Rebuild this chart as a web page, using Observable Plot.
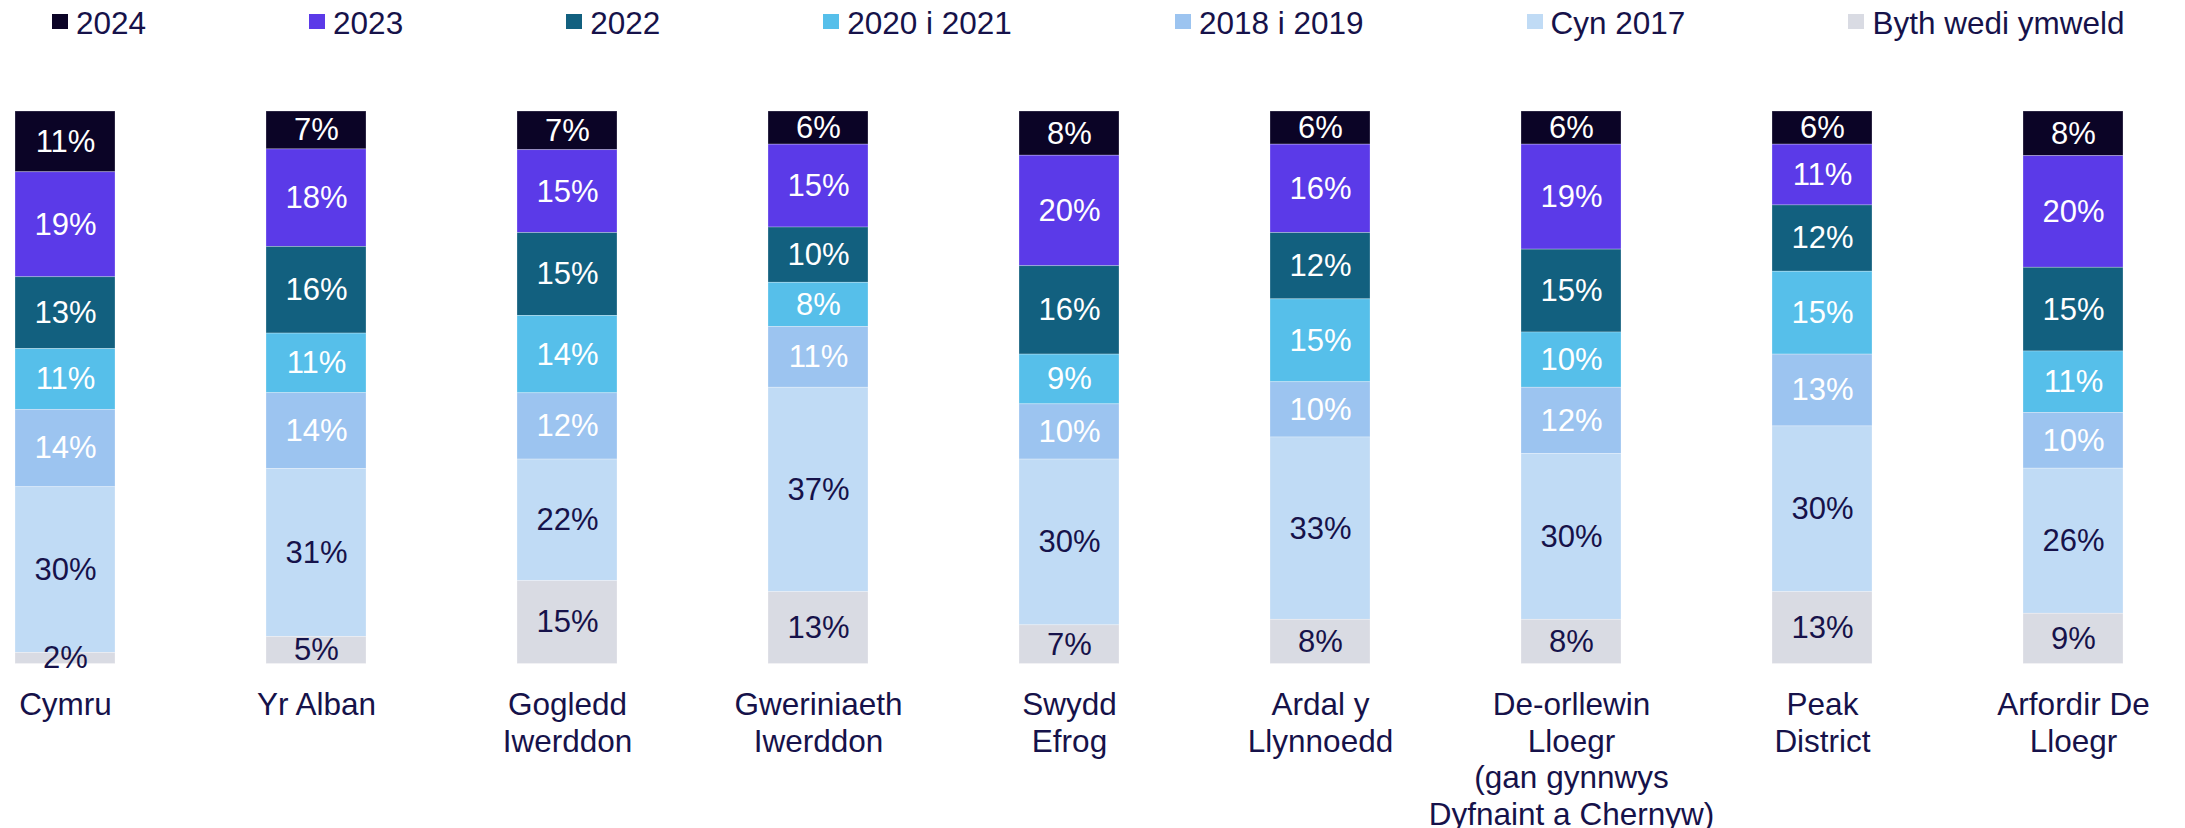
<!DOCTYPE html>
<html>
<head>
<meta charset="utf-8">
<script src="https://cdn.jsdelivr.net/npm/d3@7"></script>
<script src="https://cdn.jsdelivr.net/npm/@observablehq/plot@0.6"></script>
<style>
  html, body { margin: 0; padding: 0; background: #fff; }
  body { width: 2185px; height: 828px; overflow: hidden; font-family: "Liberation Sans", Arial, sans-serif; color: #16124a; }
  #legend { height: 50px; position: relative; display: flex; align-items: flex-start; padding-left: 52px; box-sizing: border-box; }
  .item { display: flex; align-items: flex-start; margin-right: 163px; font-size: 31.5px; line-height: 1; padding-top: 8px; white-space: nowrap; }
  .sw { width: 16px; height: 15px; margin-right: 8px; margin-top: 6px; }
  #chart svg { display: block; overflow: visible; }
</style>
</head>
<body>
<div id="legend"></div>
<div id="chart"></div>
<script>
const categories = ["Cymru", "Yr Alban", "Gogledd Iwerddon", "Gweriniaeth Iwerddon", "Swydd Efrog", "Ardal y Llynnoedd", "De-orllewin Lloegr (gan gynnwys Dyfnaint a Chernyw)", "Peak District", "Arfordir De Lloegr"];
const categoryLabels = ["Cymru", "Yr Alban", "Gogledd\nIwerddon", "Gweriniaeth\nIwerddon", "Swydd\nEfrog", "Ardal y\nLlynnoedd", "De-orllewin\nLloegr\n(gan gynnwys\nDyfnaint a Chernyw)", "Peak\nDistrict", "Arfordir De\nLloegr"];
// legend order (top of stack first)
const series = ["2024", "2023", "2022", "2020 i 2021", "2018 i 2019", "Cyn 2017", "Byth wedi ymweld"];
const colors = ["#0b0426", "#5b3ae8", "#12607f", "#56bfea", "#9cc4f0", "#c0dbf5", "#d9dbe3"];
const darkSeries = ["2024", "2023", "2022", "2020 i 2021", "2018 i 2019"];

const v2024   = [11, 7, 7, 6, 8, 6, 6, 6, 8];
const v2023   = [19, 18, 15, 15, 20, 16, 19, 11, 20];
const v2022   = [13, 16, 15, 10, 16, 12, 15, 12, 15];
const v2020   = [11, 11, 14, 8, 9, 15, 10, 15, 11];
const v2018   = [14, 14, 12, 11, 10, 10, 12, 13, 10];
const vCyn    = [30, 31, 22, 37, 30, 33, 30, 30, 26];
const vByth   = [2, 5, 15, 13, 7, 8, 8, 13, 9];

const seriesValues = [v2024, v2023, v2022, v2020, v2018, vCyn, vByth];
const data = [];
categories.forEach((c, i) => {
  series.forEach((s, j) => data.push({cat: c, series: s, value: seriesValues[j][i]}));
});
const bottomUp = series.slice().reverse();
const labelOf = Object.fromEntries(categories.map((c, i) => [c, categoryLabels[i]]));

// legend
const legend = document.getElementById("legend");
series.forEach((s, j) => {
  const it = document.createElement("div");
  it.className = "item";
  const sw = document.createElement("span");
  sw.className = "sw";
  sw.style.background = colors[j];
  const t = document.createElement("span");
  t.textContent = s;
  it.appendChild(sw); it.appendChild(t);
  legend.appendChild(it);
});

const stackOpts = {x: "cat", y: "value", z: "series", order: bottomUp, offset: "normalize"};

const chart = Plot.plot({
  width: 2185,
  height: 778,
  marginLeft: 0,
  marginRight: 47,
  marginTop: 61,
  marginBottom: 164.5,
  style: {fontFamily: "'Liberation Sans', Arial, sans-serif", background: "#fff"},
  x: {domain: categories, paddingInner: 0.6, paddingOuter: 0.05, label: null},
  y: {domain: [0, 1], axis: null},
  color: {domain: series, range: colors},
  marks: [
    Plot.barY(data, Plot.stackY({...stackOpts, fill: "series", stroke: "#ffffff", strokeOpacity: 0.35, strokeWidth: 0.75})),
    Plot.text(data, Plot.stackY({...stackOpts, text: d => darkSeries.includes(d.series) ? `${d.value}%` : null, fill: "#ffffff", fontSize: 31})),
    Plot.text(data, Plot.stackY({...stackOpts, text: d => darkSeries.includes(d.series) ? null : `${d.value}%`, fill: "#16124a", fontSize: 31})),
    Plot.axisX({tickSize: 0, tickPadding: 25.5, fontSize: 31.5, lineHeight: 1.159, fill: "#16124a", tickFormat: d => labelOf[d], label: null})
  ]
});
document.getElementById("chart").appendChild(chart);
</script>
</body>
</html>
